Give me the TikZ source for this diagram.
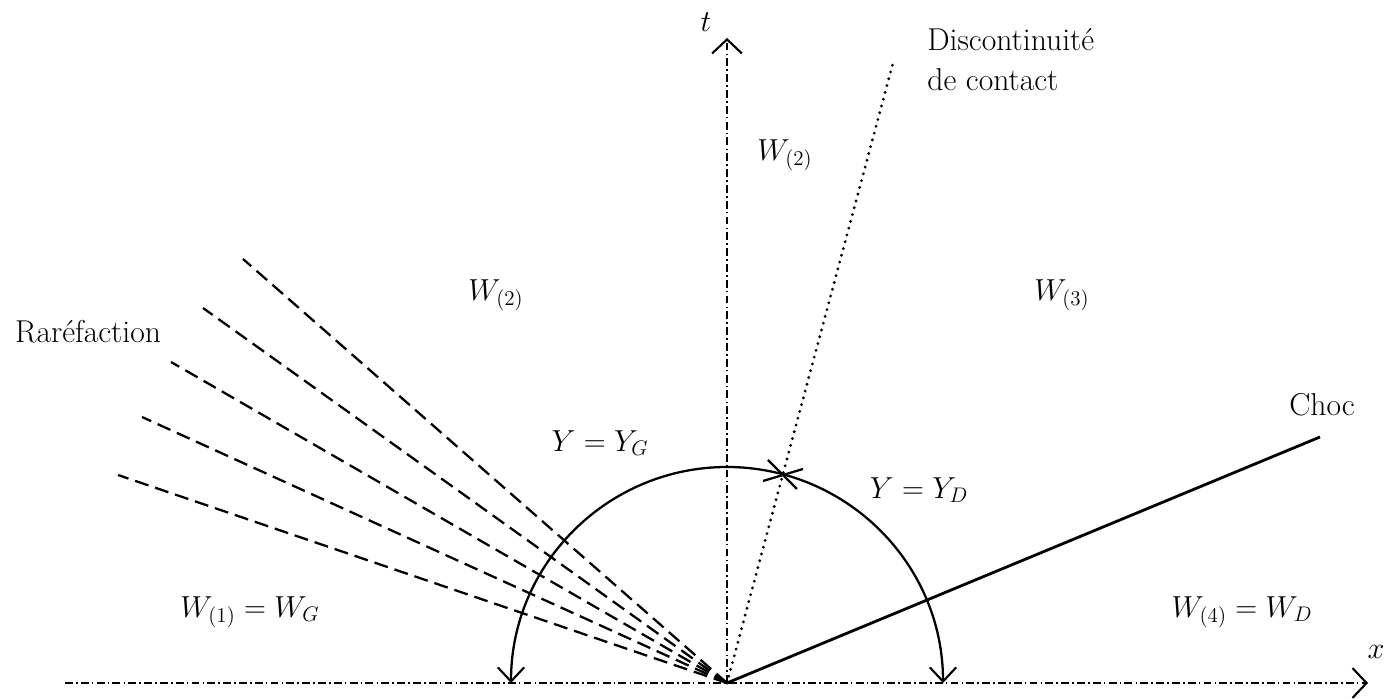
\documentclass[tikz,border=0pt]{standalone}
\usepackage{amsmath,amssymb}
\usepackage{tikz}
\usetikzlibrary{arrows.meta,calc}
\tikzset{
  barb/.style={-{Straight Barb[length=8pt,width=17pt,line width=1.2pt]}},
  axis/.style={line width=1.3pt,dash pattern=on 4.5pt off 1.8pt on 0.9pt off 1.8pt,barb},
  fan/.style={line width=1.3pt,dash pattern=on 8pt off 4pt},
  contact/.style={line width=1.8pt,line cap=round,dash pattern=on 0pt off 4pt},
  choc/.style={line width=1.6pt},
  arcY/.style={line width=1.3pt,{Straight Barb[length=8pt,width=15pt,line width=1.2pt]}-{Straight Barb[length=8pt,width=15pt,line width=1.2pt]}},
  lbl/.style={font=\fontsize{18}{23}\selectfont,inner sep=0pt}
}
\begin{document}
\begin{tikzpicture}[x=0.02cm,y=0.02cm]
\useasboundingbox (0,0) rectangle (1397,699);
\coordinate (O) at (727,16);
\coordinate (xl) at (65,16);
\coordinate (xr) at (1368,16);
\coordinate (tt) at (727,661);
\coordinate (cd) at (893,636);
\coordinate (ch) at (1320,262);
\coordinate (cross) at (785,224);
\draw[axis] (xl) -- (xr);
\draw[axis] (O) -- (tt);
\foreach \p in {(243,440),(203,391),(171,337),(142,282),(118,224)}
  \draw[fan] (O) -- \p;
\draw[contact] (O) -- (cd);
\draw[choc] (O) -- (ch);
\draw[arcY] ($(O)+(-216,0)$) arc[start angle=180,end angle=0,radius=216];
\draw[line width=1.3pt] ($(cross)+(-17,15)$) -- ($(cross)+(12,-14)$);
\draw[line width=1.3pt] ($(cross)+(-22,-6)$) -- ($(cross)+(18,6)$);
\node[lbl] (t) at (706,677) {$t$};
\node[lbl] (x) at (1376,47) {$x$};
\node[lbl,anchor=north west,align=left] (disc) at (927,671) {Discontinuit\'e\\de contact};
\node[lbl] (w2a) at (785,544) {$W_{(2)}$};
\node[lbl] (w2b) at (496,404) {$W_{(2)}$};
\node[lbl] (w3) at (1062,404) {$W_{(3)}$};
\node[lbl] (rar) at (88,367) {Rar\'efaction};
\node[lbl] (choc) at (1322,294) {Choc};
\node[lbl] (yg) at (600,256) {$Y = Y_G$};
\node[lbl] (yd) at (919,209) {$Y = Y_D$};
\node[lbl] (w1) at (250,87) {$W_{(1)} = W_G$};
\node[lbl] (w4) at (1242,87) {$W_{(4)} = W_D$};
\end{tikzpicture}
\end{document}
